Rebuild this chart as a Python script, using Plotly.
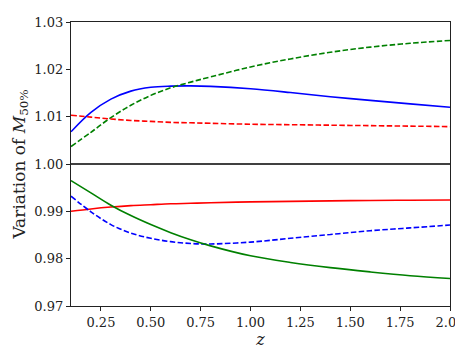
import plotly.graph_objects as go

# redshift grid the curves were read on
z = [0.1, 0.2, 0.3, 0.4, 0.5, 0.6, 0.7, 0.8, 1.0, 1.2, 1.4, 1.6, 1.8, 2.0]

blue_solid = [1.0068, 1.0109, 1.0137, 1.0154, 1.0162, 1.01645, 1.0165, 1.0164,
              1.0159, 1.0151, 1.0142, 1.01345, 1.0127, 1.0120]
green_dash = [1.0037, 1.0067, 1.0098, 1.0124, 1.0145, 1.0161, 1.0173, 1.0184,
              1.0205, 1.0222, 1.0236, 1.0247, 1.0255, 1.0261]
red_dash = [1.0103, 1.0099, 1.0095, 1.0092, 1.0090, 1.0088, 1.0087, 1.0086,
            1.0084, 1.0083, 1.0082, 1.0081, 1.0080, 1.0079]
red_solid = [0.9900, 0.9905, 0.9909, 0.9912, 0.9914, 0.9916, 0.9917, 0.9918,
             0.9920, 0.9921, 0.9922, 0.9923, 0.99235, 0.9924]
blue_dash = [0.9932, 0.9899, 0.9872, 0.9854, 0.9843, 0.9836, 0.9832, 0.9831,
             0.9835, 0.9843, 0.9851, 0.9859, 0.9865, 0.9871]
green_solid = [0.9965, 0.9939, 0.9913, 0.9891, 0.9872, 0.9855, 0.9840, 0.9827,
               0.9806, 0.9792, 0.9781, 0.9772, 0.9764, 0.9758]

x_ticks = [0.25, 0.5, 0.75, 1.0, 1.25, 1.5, 1.75, 2.0]
y_ticks = [0.97, 0.98, 0.99, 1.00, 1.01, 1.02, 1.03]

dash = "5.5px,2.4px"
series = [
    (blue_solid, "#0000ff", "solid"),
    (green_dash, "#008000", dash),
    (red_dash, "#ff0000", dash),
    (red_solid, "#ff0000", "solid"),
    (blue_dash, "#0000ff", dash),
    (green_solid, "#008000", "solid"),
]

fig = go.Figure()
# reference line at unity
fig.add_trace(go.Scatter(x=[z[0], z[-1]], y=[1.0, 1.0], mode="lines",
                         line=dict(color="black", width=1.6)))
for ys, col, ds in series:
    fig.add_trace(go.Scatter(x=z, y=ys, mode="lines",
                             line=dict(color=col, width=1.6, dash=ds, shape="spline", smoothing=1.0)))

font = "DejaVu Serif"
fig.update_layout(
    width=463, height=349,
    margin=dict(l=63, r=21, t=14, b=51, autoexpand=False),
    paper_bgcolor="white", plot_bgcolor="white",
    showlegend=False,
    font=dict(family=font, size=14, color="#222"),
)
fig.update_xaxes(
    range=[0.1, 2.0], tickvals=x_ticks, ticktext=["%.2f" % v for v in x_ticks],
    showgrid=False, zeroline=False, showline=True, linecolor="#222", linewidth=1.2,
    mirror=True, ticks="outside", ticklen=4, tickcolor="#222", automargin=False,
    tickfont=dict(family=font, size=13),
    title=dict(text="<i>z</i>", font=dict(family=font, size=16), standoff=0),
)
fig.update_yaxes(
    range=[0.97, 1.03], tickvals=y_ticks, ticktext=["%.2f" % v for v in y_ticks],
    showgrid=False, zeroline=False, showline=True, linecolor="#222", linewidth=1.2,
    mirror=True, ticks="outside", ticklen=4, tickcolor="#222", automargin=False,
    tickfont=dict(family=font, size=13),
    title=dict(text="Variation of <i>M</i><sub>50%</sub>", font=dict(family=font, size=17), standoff=4),
)

fig.write_html("out.html")
